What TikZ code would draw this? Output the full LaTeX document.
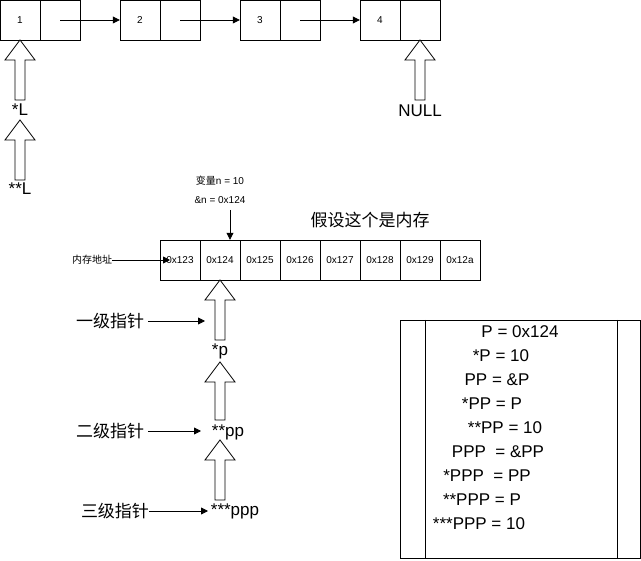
\documentclass[tikz,border=0pt]{standalone}
\usepackage{fontspec}
\setmainfont{Liberation Sans}
\newfontfamily\cjk{Noto Sans CJK SC}
\usetikzlibrary{arrows.meta}
\begin{document}
\begin{tikzpicture}[x=1pt,y=-1pt,
  cell/.style={draw,minimum width=40pt,minimum height=40pt,inner sep=0pt,font=\fontsize{10}{12}\selectfont},
  mcell/.style={draw,minimum width=40pt,minimum height=40pt,inner sep=0pt,font=\fontsize{10}{12}\selectfont},
  big/.style={font=\fontsize{17}{20}\selectfont,inner sep=0pt},
  small/.style={font=\fontsize{10}{12}\selectfont,inner sep=0pt},
  arr/.style={-{Triangle[length=7pt,width=7pt]},line width=0.8pt},
  blk/.style={draw,line width=0.8pt,fill=white}]
\useasboundingbox (0,0) rectangle (641,561);
% linked list
\foreach \i/\x in {1/0,2/120,3/240,4/360}{
  \node[cell] (a\i) at (\x+20,20) {\i};
  \node[cell] (b\i) at (\x+60,20) {};
}
\draw[arr] (b1.center) -- (a2.west);
\draw[arr] (b2.center) -- (a3.west);
\draw[arr] (b3.center) -- (a4.west);
\newcommand\blockarrow[3]{% x, tip y, bottom y
  \draw[blk] (#1,#2) -- (#1+15,#2+20) -- (#1+5,#2+20) -- (#1+5,#3) -- (#1-5,#3) -- (#1-5,#2+20) -- (#1-15,#2+20) -- cycle;}
\blockarrow{20}{40}{100}
\blockarrow{20}{120}{180}
\blockarrow{420}{40}{100}
\node[big] (sL) at (20,110) {*L};
\node[big] (ssL) at (20,189) {**L};
\node[big] (null) at (420,111) {NULL};
% memory
\foreach \i/\t in {0/0x123,1/0x124,2/0x125,3/0x126,4/0x127,5/0x128,6/0x129,7/0x12a}{
  \node[mcell] (m\i) at (180+40*\i,260) {\t};
}
\node[small] (addr) at (92,260) {\cjk 内存地址};
\draw[arr] (addr.east) -- (170,260);
\node[small] (var) at (220,181) {{\cjk 变量}n = 10};
\node[small] (ref) at (220,200) {\&n = 0x124};
\draw[arr] (230,210) -- (m1.north -| 230,0);
\node[big] (mem) at (370,220) {\cjk 假设这个是内存};
\blockarrow{220}{280}{340}
\blockarrow{220}{362}{420}
\blockarrow{220}{440}{500}
\node[big] (p) at (220,351) {*p};
\node[big] (pp) at (228,432) {**pp};
\node[big] (ppp) at (235,511) {***ppp};
\node[big] (l1) at (110,321) {\cjk 一级指针};
\node[big] (l2) at (110,431) {\cjk 二级指针};
\node[big] (l3) at (115,511) {\cjk 三级指针};
\draw[arr] (l1.east)++(4,0) -- (205,321);
\draw[arr] (l2.east)++(4,0) -- (201,431);
\draw[arr] (l3.east) -- (208,511);
% right box
\draw[line width=0.8pt] (400,320) rectangle (640,558);
\draw[line width=0.8pt] (425,320) -- (425,558) (617,320) -- (617,558);
\node[big] (t1) at (520,332) {P = 0x124};
\node[big] (t2) at (501,356) {*P = 10};
\node[big] (t3) at (497,380) {PP = \&P};
\node[big] (t4) at (492,404) {*PP = P};
\node[big] (t5) at (505,428) {**PP = 10};
\node[big] (t6) at (498,452) {PPP\ \ = \&PP};
\node[big] (t7) at (487,476) {*PPP\ \ = PP};
\node[big] (t8) at (482,500) {**PPP = P};
\node[big] (t9) at (479,524) {***PPP = 10};
\end{tikzpicture}
\end{document}
